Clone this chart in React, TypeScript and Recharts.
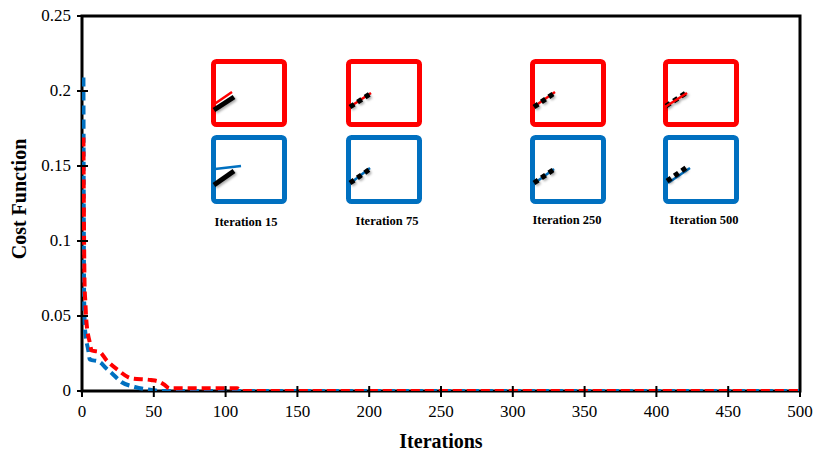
import { LineChart, Line, XAxis, YAxis, ReferenceArea } from 'recharts'

// values
const BLUE_ITER = [1, 1.5, 2.2, 4.4, 5.4, 12, 17, 20.6, 27.4, 36.8, 48.5, 55, 500]
const BLUE_COST = [0.209, 0.06, 0.04, 0.027, 0.021, 0.0195, 0.015, 0.012, 0.006, 0.0027, 0.0007, 0, 0]

const RED_ITER = [1, 1.8, 2.3, 3, 5.5, 6.7, 12.3, 17, 25, 34.5, 48, 54, 57.6, 61, 108, 111, 500]
const RED_COST = [0.169, 0.07, 0.06, 0.047, 0.032, 0.027, 0.026, 0.0206, 0.014, 0.0084, 0.0073, 0.006, 0.004, 0.0018, 0.0018, 0, 0]

const X_TICKS = [0, 50, 100, 150, 200, 250, 300, 350, 400, 450, 500]
const Y_TICKS = [0, 0.05, 0.1, 0.15, 0.2, 0.25]

const INSET_LABELS = ['Iteration 15', 'Iteration 75', 'Iteration 250', 'Iteration 500']

const blueData = BLUE_ITER.map((iter, i) => ({ iter, cost: BLUE_COST[i] }))
const redData = RED_ITER.map((iter, i) => ({ iter, cost: RED_COST[i] }))

const FONT = '"Liberation Serif", "Times New Roman", serif'
const RED = '#FF0000'
const BLUE = '#0070C0'

const YTick = (props: any) => {
  const { x, y, payload } = props
  const ax = x + 10
  return (
    <g>
      <line x1={ax - 5} x2={ax + 6} y1={y} y2={y} stroke="#000" strokeWidth={2} />
      <text x={ax - 11} y={y + 5} textAnchor="end" fontFamily={FONT} fontSize={17} fill="#000">
        {String(payload.value)}
      </text>
    </g>
  )
}

const XTick = (props: any) => {
  const { x, y, payload } = props
  const ay = y - 10
  return (
    <g>
      <line x1={x} x2={x} y1={ay - 5} y2={ay + 6} stroke="#000" strokeWidth={2} />
      <text x={x} y={ay + 26} textAnchor="middle" fontFamily={FONT} fontSize={17} fill="#000">
        {String(payload.value)}
      </text>
    </g>
  )
}

// small snapshot boxes drawn over the plot
type Seg = [number, number, number, number]
interface Inset {
  x: number
  labelX: number
  labelY: number
  redBlack: Seg
  redLine: Seg
  blueBlack: Seg
  blueLine: Seg
  dashed: boolean
  hollow?: boolean
}

const INSETS: Inset[] = [
  { x: 211, labelX: 246, labelY: 226, redBlack: [3, 51, 23, 38], redLine: [2, 46, 21, 33], blueBlack: [3, 50, 23, 36], blueLine: [4, 34, 30, 31], dashed: false },
  { x: 346, labelX: 387, labelY: 225, redBlack: [4, 48, 24, 35], redLine: [2, 49, 25, 34], blueBlack: [4, 48, 24, 34], blueLine: [2, 50, 24, 33], dashed: true },
  { x: 530, labelX: 567, labelY: 224, redBlack: [4, 48, 23, 35], redLine: [2, 49, 25, 33], blueBlack: [4, 48, 23, 35], blueLine: [2, 50, 24, 34], dashed: true },
  { x: 663, labelX: 704, labelY: 224, redBlack: [3, 47, 23, 34], redLine: [2, 48, 24, 34], blueBlack: [4, 46, 24, 32], blueLine: [5, 48, 27, 33], dashed: true, hollow: true },
]

function Snapshot({ inset, idx }: { inset: Inset; idx: number }) {
  const box = (top: number, h: number, color: string, black: Seg, line: Seg, hollow?: boolean) => (
    <g transform={`translate(${inset.x},${top})`}>
      <rect x={2.5} y={2.5} width={71} height={h} rx={3} fill="#fff" stroke={color} strokeWidth={5} />
      {hollow ? (
        <g filter="url(#sh)">
          <line x1={black[0]} y1={black[1]} x2={black[2]} y2={black[3]} stroke="#000" strokeWidth={5} strokeDasharray="5 4" />
          <line x1={line[0]} y1={line[1]} x2={line[2]} y2={line[3]} stroke={color} strokeWidth={2.5} />
        </g>
      ) : (
        <>
          <line x1={line[0]} y1={line[1]} x2={line[2]} y2={line[3]} stroke={color} strokeWidth={2.5} />
          <line
            x1={black[0]}
            y1={black[1]}
            x2={black[2]}
            y2={black[3]}
            stroke="#000"
            strokeWidth={5}
            strokeDasharray={inset.dashed ? '5 4' : undefined}
            filter="url(#sh)"
          />
        </>
      )}
    </g>
  )
  return (
    <g>
      {box(59, 63, RED, inset.redBlack, inset.redLine, inset.hollow)}
      {box(135, 64, BLUE, inset.blueBlack, inset.blueLine)}
      <text x={inset.labelX} y={inset.labelY} textAnchor="middle" fontFamily={FONT} fontWeight="bold" fontSize={12.5} fill="#000">
        {INSET_LABELS[idx]}
      </text>
    </g>
  )
}

export default function App() {
  return (
    <div style={{ position: 'fixed', left: 0, top: 0, width: 818, height: 455, background: '#fff' }}>
      <LineChart width={818} height={455} data={blueData} margin={{ top: 16, right: 18, bottom: 0, left: 0 }}>
        <XAxis
          dataKey="iter"
          type="number"
          domain={[0, 500]}
          ticks={X_TICKS}
          allowDataOverflow
          height={64}
          tickLine={false}
          tickSize={6}
          tickMargin={4}
          axisLine={false}
          tick={<XTick />}
        />
        <YAxis
          type="number"
          domain={[0, 0.25]}
          ticks={Y_TICKS}
          allowDataOverflow
          width={82}
          tickLine={false}
          tickSize={6}
          tickMargin={4}
          axisLine={false}
          tick={<YTick />}
        />
        <ReferenceArea x1={0} x2={500} y1={0} y2={0.25} fill="none" stroke="#000" strokeWidth={3} fillOpacity={0} />
        <Line
          data={blueData}
          dataKey="cost"
          type="monotone"
          stroke={BLUE}
          strokeWidth={4}
          strokeDasharray="9 5"
          dot={false}
          isAnimationActive={false}
        />
        <Line
          data={redData}
          dataKey="cost"
          type="monotone"
          stroke={RED}
          strokeWidth={4}
          strokeDasharray="9 5"
          dot={false}
          isAnimationActive={false}
        />
      </LineChart>
      <svg width={818} height={455} style={{ position: 'absolute', left: 0, top: 0, pointerEvents: 'none' }}>
        <defs>
          <filter id="sh" x="-50%" y="-50%" width="200%" height="200%">
            <feDropShadow dx={1.5} dy={1.5} stdDeviation={1.2} floodColor="#000" floodOpacity={0.35} />
          </filter>
        </defs>
        {INSETS.map((inset, i) => (
          <Snapshot key={i} inset={inset} idx={i} />
        ))}
        <text x={441} y={448} textAnchor="middle" fontFamily={FONT} fontWeight="bold" fontSize={20} fill="#000">
          Iterations
        </text>
        <text transform="translate(26,199) rotate(-90)" textAnchor="middle" fontFamily={FONT} fontWeight="bold" fontSize={20} fill="#000">
          Cost Function
        </text>
      </svg>
    </div>
  )
}
